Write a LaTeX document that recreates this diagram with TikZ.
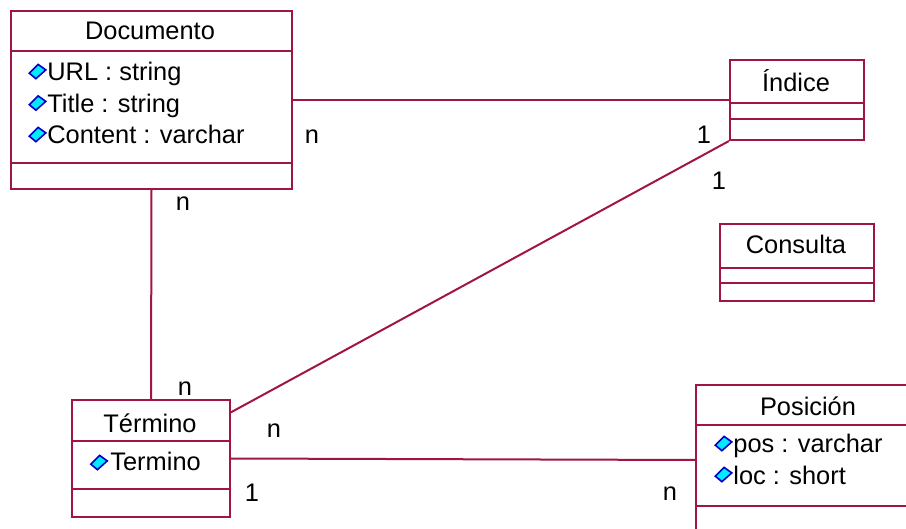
\documentclass[tikz,border=0pt]{standalone}
\usepackage{fontspec}
\setmainfont{Liberation Sans}
\usepackage{tikz}
\usepackage{xcolor}

\definecolor{umlred}{RGB}{160,20,70}
\definecolor{gemfill}{RGB}{0,235,255}
\definecolor{gemline}{RGB}{0,0,200}

\tikzset{
	classbox/.style={draw=umlred, line width=1pt, rectangle, inner sep=0pt, anchor=north west},
	sep/.style={draw=umlred, line width=1pt},
	assoc/.style={draw=umlred, line width=1pt},
	txt/.style={inner sep=0pt, anchor=base, font=\fontsize{12.7}{15}\selectfont},
	attr/.style={txt, anchor=base west},
	mult/.style={inner sep=0pt, font=\fontsize{12.7}{15}\selectfont},
}

% small attribute marker
\newcommand{\gem}[1]{\filldraw[fill=gemfill, draw=gemline, line width=0.8pt, shift={(#1)}, scale=1.1] (-7,2) -- (1,-6) -- (8,-1) -- (-1,7) -- cycle;}

\begin{document}
\begin{tikzpicture}[x=0.5pt, y=-0.5pt]
	\useasboundingbox (0, 0) rectangle (906, 529);
	\clip (0, 0) rectangle (906, 529);

	% classes
	\node[classbox, minimum width=140.5pt, minimum height=89pt] (doc) at (10, 10) {};
	\node[classbox, minimum width=67pt, minimum height=40pt] (ind) at (729, 59) {};
	\node[classbox, minimum width=77pt, minimum height=38.5pt] (cons) at (719, 223) {};
	\node[classbox, minimum width=79pt, minimum height=58.5pt] (term) at (71, 399) {};
	\node[classbox, minimum width=113pt, minimum height=75pt] (pos) at (695, 384) {};

	% compartments
	\draw[sep] (10, 51) -- (291, 51);
	\draw[sep] (10, 163) -- (291, 163);
	\draw[sep] (729, 103) -- (863, 103);
	\draw[sep] (729, 119) -- (863, 119);
	\draw[sep] (719, 268) -- (873, 268);
	\draw[sep] (719, 283) -- (873, 283);
	\draw[sep] (71, 441) -- (229, 441);
	\draw[sep] (71, 489) -- (229, 489);
	\draw[sep] (695, 425) -- (921, 425);
	\draw[sep] (695, 506) -- (921, 506);

	% names
	\node[txt] (docname) at (150, 39.5) {Documento};
	\node[txt] (indname) at (796, 91.5) {Índice};
	\node[txt] (consname) at (796, 254) {Consulta};
	\node[txt] (termname) at (150, 432.5) {Término};
	\node[txt] (posname) at (808, 416) {Posición};

	% attributes
	\gem{37, 71} \node[attr] (url) at (47, 81) {URL : string};
	\gem{37, 102.5} \node[attr] (title) at (47, 112.5) {Title : string};
	\gem{37, 134} \node[attr] (content) at (47, 144) {Content : varchar};
	\gem{98.5, 462} \node[attr] (termattr) at (110, 471) {Termino};
	\gem{723, 443} \node[attr] (posattr) at (733, 452.5) {pos : varchar};
	\gem{723, 474} \node[attr] (locattr) at (733, 485) {loc : short};

	% associations
	\draw[assoc] (doc.east) -- (ind.west);
	\draw[assoc] (doc.south) -- (term.north);
	\draw[assoc] (term.30) -- (ind.south west);
	\draw[assoc] (term.east) -- (pos.west);

	% multiplicities
	\node[mult] (m1) at (312, 137) {n};
	\node[mult] (m2) at (704, 135) {1};
	\node[mult] (m3) at (183, 204) {n};
	\node[mult] (m4) at (719, 181) {1};
	\node[mult] (m5) at (185, 389) {n};
	\node[mult] (m6) at (274, 431) {n};
	\node[mult] (m7) at (252, 493) {1};
	\node[mult] (m8) at (670, 494) {n};
\end{tikzpicture}
\end{document}
